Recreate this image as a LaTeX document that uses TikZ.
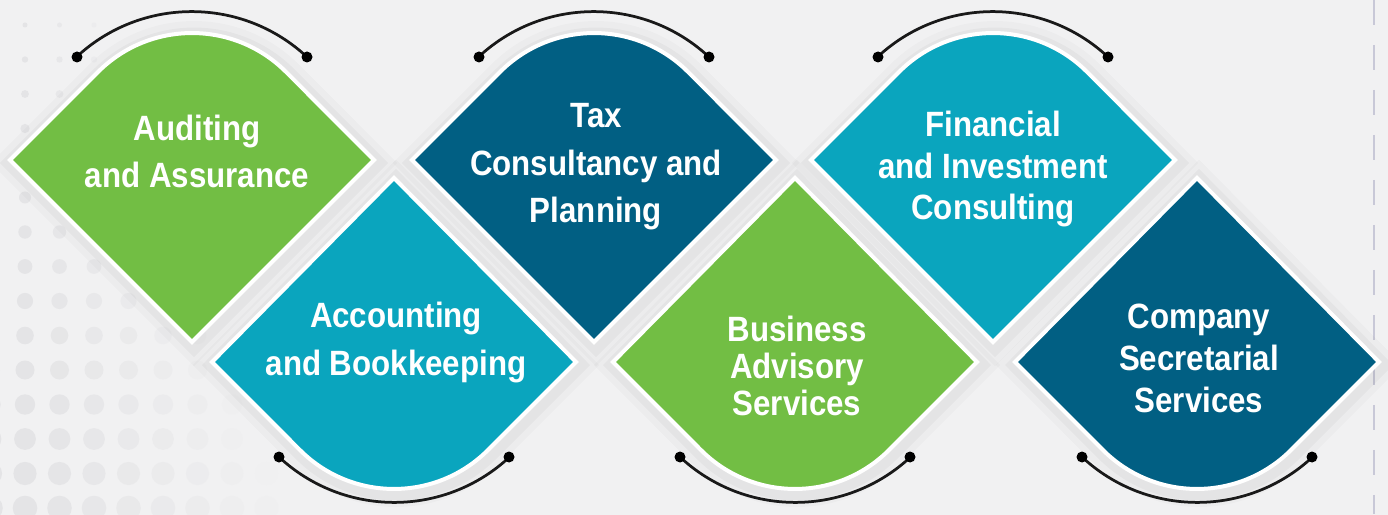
\documentclass[tikz,border=0pt]{standalone}
\usepackage{fontspec}
\setmainfont{Liberation Sans}[FakeStretch=0.89]
\definecolor{svcgreen}{RGB}{114,190,68}
\definecolor{svcteal}{RGB}{10,165,190}
\definecolor{svcblue}{RGB}{1,95,131}
\definecolor{bggray}{RGB}{241,241,242}
\definecolor{dotgray}{RGB}{228,228,230}
\definecolor{dashgray}{RGB}{200,200,215}
\tikzset{
    tile/.style={draw=white, line width=0.08cm,
        preaction={draw=black, draw opacity=0.02, line width=0.6cm, transform canvas={xshift=0.04cm, yshift=-0.06cm}},
        preaction={draw=black, draw opacity=0.03, line width=0.34cm, transform canvas={xshift=0.04cm, yshift=-0.06cm}}},
    svc/.style={text=white, align=center, inner sep=0pt, anchor=base, font=\bfseries\fontsize{20}{27.3}\selectfont},
    hook/.style={draw=black!90, line width=0.055cm},
}
\begin{document}
\begin{tikzpicture}[x=0.02cm, y=0.02cm]
        \useasboundingbox (0,0) rectangle (1388,514);
        \shade[left color=bggray, middle color=white, right color=bggray] (0,0) rectangle (1388,514);
        \foreach \i in {-1,...,8} {
            \foreach \j in {0,...,14} {
                \pgfmathsetmacro{\dotr}{2.5+0.7*\j}
                \pgfmathsetmacro{\dotop}{max(0,min(1,1-\i/(3+\j/3)))}
                \fill[dotgray, opacity=\dotop] ({25+34.5*\i},{489-34.5*\j}) circle[radius=\dotr];
            }
        }
        \draw[dashgray, line width=0.03cm, dash pattern=on 0.5cm off 0.4cm] (1374,514) -- (1374,0);
        \foreach \cx/\col/\name in {192/svcgreen/aud, 594/svcblue/tax, 993/svcteal/fin} {
            \path[tile, fill=\col] (\cx-182,354) -- (\cx-94,442) arc[start angle=135, end angle=45, radius=133]
                -- (\cx+182,354) -- (\cx,172) -- cycle;
            \coordinate (\name-l) at (\cx-115,457);
            \coordinate (\name-r) at (\cx+115,457);
            \draw[hook] (\name-r) arc[start angle=47, end angle=133, radius=169];
            \fill (\name-l) circle[radius=5.5] (\name-r) circle[radius=5.5];
        }
        \foreach \cx/\col/\name in {394/svcteal/acc, 795/svcgreen/bus, 1197/svcblue/com} {
            \path[tile, fill=\col] (\cx,336) -- (\cx+182,152) -- (\cx+94,64) arc[start angle=-45, end angle=-135, radius=133]
                -- (\cx-182,152) -- cycle;
            \coordinate (\name-l) at (\cx-115,57);
            \coordinate (\name-r) at (\cx+115,57);
            \draw[hook] (\name-l) arc[start angle=-133, end angle=-47, radius=169];
            \fill (\name-l) circle[radius=5.5] (\name-r) circle[radius=5.5];
        }
        \node[svc] (aud) at (197,326) {Auditing\\and Assurance};
        \node[svc] (acc) at (396,139) {Accounting\\and Bookkeeping};
        \node[svc] (tax) at (596,291) {Tax\\Consultancy and\\Planning};
        \node[svc, font=\bfseries\fontsize{20}{21}\selectfont] (bus) at (797,99) {Business\\Advisory\\Services};
        \node[svc, font=\bfseries\fontsize{20}{23.9}\selectfont] (fin) at (993,294) {Financial\\and Investment\\Consulting};
        \node[svc, font=\bfseries\fontsize{20}{23.9}\selectfont] (com) at (1199,102) {Company\\Secretarial\\Services};
\end{tikzpicture}
\end{document}
